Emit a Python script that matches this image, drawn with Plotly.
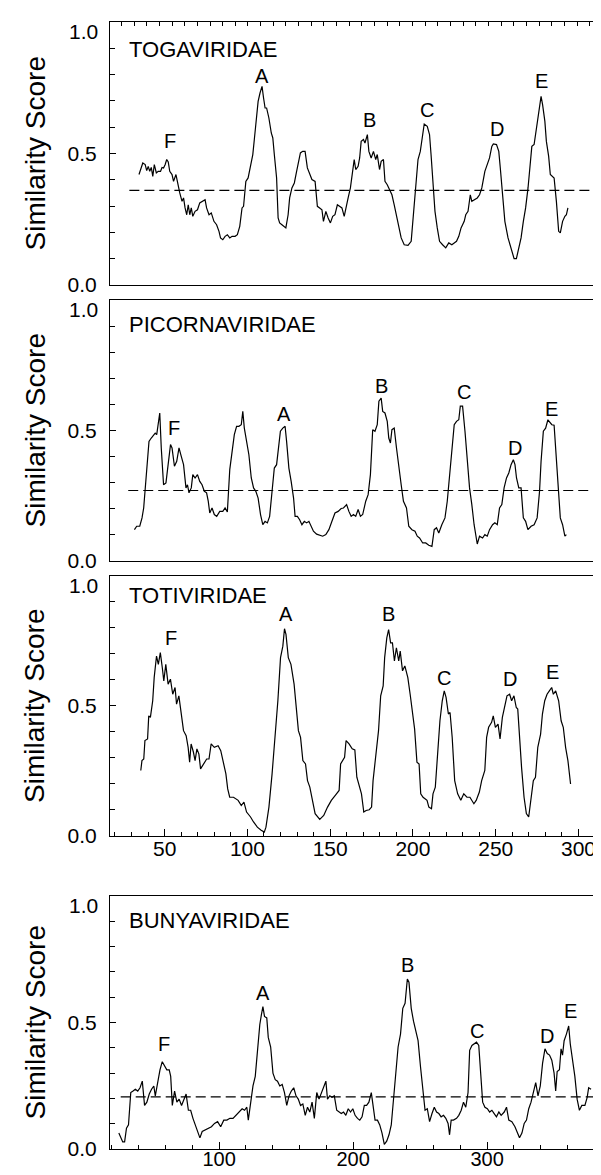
import plotly.graph_objects as go

# ---------------- DATA ----------------
toga_x = [23.9, 25.4, 26.9, 28.8, 30, 31.2, 32.4, 33.6, 34.8, 36, 37.6, 39.1, 40.9, 42.1, 43.3, 44.6, 45.8, 47, 48.2, 50,
          51.2, 53.1, 54.3, 56.1, 57.9, 59.1, 60.3, 61.6, 62.8, 64, 65.2, 66.4, 68.2, 70.1, 71.9, 73.7, 76.1, 77.3, 79.2, 81,
          83.1, 85.2, 87.1, 88.3, 90.1, 91.9, 93.7, 95.6, 97.4, 99.8, 101.6, 103.5, 105.3, 106.5, 108.3, 110.1, 112, 113.8, 115, 116.5,
          118, 119.5, 121.1, 122.3, 123.5, 124.7, 126.5, 128.4, 129.6, 130.8, 132.6, 133.8, 135, 136.8, 138.7, 139.9, 141.7, 142.9, 144.7, 146.6,
          148.4, 150.2, 151.4, 153.2, 155.1, 156.9, 158.7, 160.5, 163, 164.8, 166.6, 168.4, 169.6, 171.5, 173.3, 175.1, 176.9, 178.7, 180.6, 182.4,
          184.2, 186, 187.2, 189.1, 190.9, 192.7, 193.9, 195.1, 197, 198.2, 199.4, 201.2, 202.4, 204.3, 205.5, 207.3, 209.1, 210.9, 212.1, 213.9,
          215.2, 217, 218.2, 220, 221.9, 223.7, 225.5, 227.3, 229.1, 231, 233.4, 236.4, 238.9, 240.7, 242.5, 244.3, 246.1, 248, 249.2, 251.6,
          253.4, 254.6, 256.5, 257.7, 259.5, 261.3, 263.7, 266.2, 268.6, 271, 272.9, 274.7, 276.5, 278.3, 280.8, 282, 283.8, 285.6, 286.8, 288.7,
          291.1, 292.9, 294.7, 297.1, 299, 300.8, 302.6, 303.8, 306.3, 308.1, 309.3, 311.1, 312.9, 315.4, 317.8, 320.2, 322, 323.9, 325.7, 327.5,
          329.3, 331.2, 333, 334.2, 336, 337.8, 339.7, 341.5, 342.7, 344.5, 345.7, 347.5, 348.8, 350.6, 351.8, 353.6, 355.4, 356.7, 358.5, 360.3,
          361.5, 362.7]
toga_y = [0.42, 0.439, 0.464, 0.458, 0.435, 0.451, 0.432, 0.447, 0.413, 0.458, 0.426, 0.432, 0.432, 0.447, 0.445, 0.458, 0.477, 0.468, 0.432, 0.42,
          0.394, 0.42, 0.388, 0.35, 0.318, 0.331, 0.293, 0.267, 0.305, 0.267, 0.293, 0.261, 0.28, 0.286, 0.312, 0.318, 0.324, 0.293, 0.267, 0.274,
          0.242, 0.229, 0.204, 0.179, 0.172, 0.185, 0.191, 0.179, 0.185, 0.185, 0.191, 0.223, 0.293, 0.299, 0.394, 0.407, 0.458, 0.496, 0.553, 0.635,
          0.698, 0.73, 0.755, 0.711, 0.673, 0.673, 0.635, 0.578, 0.559, 0.496, 0.407, 0.255, 0.236, 0.229, 0.223, 0.217, 0.267, 0.331, 0.369, 0.388,
          0.432, 0.47, 0.502, 0.508, 0.508, 0.445, 0.42, 0.401, 0.394, 0.299, 0.293, 0.286, 0.242, 0.28, 0.255, 0.236, 0.261, 0.267, 0.305, 0.299,
          0.293, 0.261, 0.293, 0.331, 0.369, 0.445, 0.477, 0.439, 0.451, 0.483, 0.546, 0.553, 0.54, 0.572, 0.508, 0.483, 0.508, 0.477, 0.496, 0.439,
          0.47, 0.477, 0.394, 0.381, 0.362, 0.343, 0.305, 0.267, 0.217, 0.179, 0.153, 0.151, 0.166, 0.267, 0.369, 0.477, 0.508, 0.584, 0.612, 0.603,
          0.572, 0.496, 0.381, 0.28, 0.217, 0.166, 0.153, 0.141, 0.16, 0.153, 0.16, 0.166, 0.185, 0.217, 0.242, 0.267, 0.28, 0.343, 0.318, 0.324,
          0.331, 0.343, 0.369, 0.432, 0.458, 0.483, 0.527, 0.536, 0.534, 0.508, 0.445, 0.343, 0.242, 0.179, 0.141, 0.1, 0.1, 0.141, 0.179, 0.242,
          0.293, 0.369, 0.458, 0.527, 0.534, 0.597, 0.673, 0.717, 0.686, 0.622, 0.546, 0.489, 0.42, 0.413, 0.407, 0.318, 0.204, 0.198, 0.242, 0.261,
          0.267, 0.293]

pico_x = [20.3, 22.1, 24.5, 26.3, 27.6, 28.8, 30.6, 31.8, 33.6, 35.5, 36.7, 37.9, 39.1, 40.3, 41.5, 43.3, 45.2, 47, 48.8, 50,
          51.9, 53.7, 55.5, 57.3, 59.1, 61, 62.2, 63.4, 65.2, 66.4, 68.2, 70.1, 71.9, 73.7, 75.5, 77.3, 78.6, 79.8, 81.6, 83.4,
          85.3, 87.7, 90.1, 91.9, 93.7, 95.6, 97.4, 99.2, 101, 102.8, 104.7, 105.9, 107.1, 108.9, 110.7, 112.6, 114.4, 116.2, 118, 119.9,
          121.7, 123.5, 125.3, 127.1, 129, 130.8, 132.6, 134.4, 135.6, 137.5, 139.3, 140.5, 142.3, 144.1, 146, 147.2, 149, 150.8, 152.6, 154.5,
          156.3, 158.1, 159.9, 161.7, 164.2, 166.6, 169, 171.5, 173.9, 176.3, 178.7, 181.2, 183.6, 185.4, 187.9, 189.7, 191.5, 193.3, 195.1, 197,
          198.8, 200.6, 203, 204.9, 206.7, 208.5, 210.3, 212.1, 213.4, 215.2, 216.4, 218.2, 220, 221.2, 222.5, 223.7, 225.5, 227.3, 229.1, 231,
          232.8, 235.2, 237, 239.5, 241.9, 243.7, 245.5, 248, 250.4, 252.8, 255.3, 257.1, 258.9, 260.7, 263.1, 265.6, 267.4, 269.2, 271.1, 272.9,
          274.7, 276.5, 277.7, 279.5, 281.4, 283.2, 285, 286.8, 288.6, 291.1, 292.9, 295.3, 297.1, 299, 300.8, 303.2, 305, 306.9, 308.7, 310.5,
          312.3, 314.2, 316, 317.8, 319.6, 320.9, 322.1, 323.9, 325.7, 327.5, 329.3, 331.1, 333.6, 336, 338.4, 340.3, 341.5, 343.3, 345.1, 346.9,
          348.1, 350, 351.8, 353.6, 355.4, 356.7, 358.5, 360.3, 361.5]
pico_y = [0.12, 0.133, 0.133, 0.165, 0.203, 0.28, 0.382, 0.458, 0.471, 0.484, 0.49, 0.484, 0.522, 0.567, 0.433, 0.292, 0.299, 0.382, 0.446, 0.433,
          0.363, 0.382, 0.433, 0.401, 0.369, 0.28, 0.292, 0.261, 0.28, 0.331, 0.318, 0.331, 0.305, 0.292, 0.267, 0.261, 0.229, 0.184, 0.203, 0.178,
          0.171, 0.19, 0.19, 0.203, 0.188, 0.35, 0.42, 0.484, 0.516, 0.516, 0.522, 0.573, 0.509, 0.458, 0.407, 0.318, 0.28, 0.267, 0.241, 0.178,
          0.139, 0.152, 0.146, 0.171, 0.267, 0.356, 0.369, 0.458, 0.497, 0.509, 0.516, 0.458, 0.356, 0.305, 0.241, 0.171, 0.171, 0.158, 0.139, 0.152,
          0.146, 0.152, 0.133, 0.114, 0.103, 0.098, 0.095, 0.101, 0.12, 0.152, 0.184, 0.19, 0.201, 0.203, 0.216, 0.19, 0.171, 0.178, 0.171, 0.197,
          0.171, 0.178, 0.229, 0.254, 0.331, 0.503, 0.497, 0.522, 0.612, 0.624, 0.573, 0.567, 0.535, 0.471, 0.452, 0.503, 0.509, 0.433, 0.356, 0.292,
          0.229, 0.203, 0.133, 0.12, 0.114, 0.095, 0.088, 0.069, 0.069, 0.06, 0.056, 0.12, 0.127, 0.107, 0.139, 0.165, 0.229, 0.318, 0.407, 0.522,
          0.535, 0.541, 0.593, 0.593, 0.497, 0.395, 0.28, 0.216, 0.139, 0.065, 0.095, 0.088, 0.101, 0.095, 0.12, 0.139, 0.146, 0.139, 0.203, 0.216,
          0.28, 0.318, 0.337, 0.369, 0.388, 0.369, 0.318, 0.28, 0.28, 0.165, 0.152, 0.12, 0.133, 0.139, 0.165, 0.267, 0.382, 0.497, 0.509, 0.541,
          0.535, 0.522, 0.52, 0.382, 0.28, 0.165, 0.139, 0.095, 0.101]

toti_x = [35.6, 36.3, 37.4, 38.1, 39.7, 40.4, 41.4, 42.8, 43.7, 45.1, 46.2, 47.4, 48.6, 49.5, 50.7, 52.1, 53.5, 54.9, 56.3, 57.2,
          58.6, 60, 61.4, 63, 64.2, 65.1, 66, 67.4, 68.4, 69.5, 70.7, 71.7, 73.5, 75.4, 76.8, 78.1, 80, 82.3, 83.9, 85.6,
          87, 88.1, 89.3, 91.6, 94.4, 96.3, 97.9, 99.5, 101.9, 103.7, 106, 108.3, 110.2, 111.2, 113, 114.9, 116.5, 118.4, 120, 121.4,
          122.4, 123.3, 124.7, 126.3, 128.2, 129.4, 130.8, 132.1, 133.5, 135.1, 136.3, 137.7, 139, 140.9, 143.7, 146.1, 148.4, 150.7, 153.8, 155.4,
          156.3, 157.7, 158.7, 159.6, 161.4, 163.3, 164.9, 166.1, 167.5, 168.9, 170.3, 171.7, 173.6, 175, 175.9, 177.8, 179.2, 180.5, 182, 182.9,
          184.2, 185.3, 186.5, 187.6, 188.8, 190, 191.4, 192.3, 193.7, 195.1, 196.9, 198.3, 199.6, 201, 202.4, 203.7, 204.7, 206.1, 208.5, 209.6,
          211.2, 212.1, 213.5, 214.9, 216.3, 217.7, 218.9, 220, 221.4, 222.4, 223.7, 225.2, 227, 228.9, 230.7, 232.6, 234.4, 236.8, 238.2, 240.1,
          241.5, 243.4, 244.5, 245.7, 247.5, 248.5, 249.8, 251.4, 252.6, 254, 255.4, 256.8, 258.4, 259.6, 261, 262.4, 263.3, 264.3, 265.6, 267.1,
          268.5, 269.9, 271.3, 272.7, 274, 275.4, 277.1, 278.2, 279.6, 281, 282.4, 283.8, 284.8, 286.2, 288, 289.5, 290.8, 292.2, 293.6, 295.2]
toti_y = [0.252, 0.29, 0.296, 0.367, 0.373, 0.462, 0.456, 0.52, 0.61, 0.692, 0.66, 0.705, 0.647, 0.596, 0.66, 0.584, 0.603, 0.545, 0.571, 0.507,
          0.539, 0.469, 0.405, 0.386, 0.341, 0.284, 0.354, 0.322, 0.29, 0.335, 0.315, 0.258, 0.277, 0.296, 0.296, 0.354, 0.341, 0.347, 0.328, 0.277,
          0.239, 0.181, 0.149, 0.149, 0.137, 0.117, 0.13, 0.092, 0.073, 0.054, 0.034, 0.022, 0.015, 0.034, 0.111, 0.239, 0.367, 0.52, 0.686, 0.73,
          0.797, 0.775, 0.686, 0.66, 0.584, 0.494, 0.405, 0.379, 0.29, 0.277, 0.213, 0.188, 0.149, 0.086, 0.064, 0.079, 0.111, 0.137, 0.162, 0.175,
          0.277, 0.296, 0.303, 0.367, 0.354, 0.335, 0.331, 0.226, 0.194, 0.162, 0.092, 0.098, 0.101, 0.111, 0.213, 0.335, 0.405, 0.539, 0.577, 0.686,
          0.762, 0.794, 0.743, 0.743, 0.673, 0.724, 0.673, 0.711, 0.635, 0.654, 0.609, 0.545, 0.481, 0.411, 0.284, 0.277, 0.162, 0.149, 0.137, 0.111,
          0.105, 0.162, 0.188, 0.315, 0.443, 0.52, 0.558, 0.533, 0.469, 0.475, 0.379, 0.213, 0.162, 0.137, 0.162, 0.149, 0.149, 0.124, 0.137, 0.169,
          0.213, 0.252, 0.379, 0.418, 0.437, 0.462, 0.418, 0.43, 0.373, 0.456, 0.494, 0.539, 0.545, 0.52, 0.539, 0.494, 0.488, 0.386, 0.264, 0.149,
          0.086, 0.073, 0.149, 0.213, 0.226, 0.341, 0.392, 0.469, 0.52, 0.545, 0.558, 0.571, 0.545, 0.558, 0.52, 0.443, 0.418, 0.341, 0.29, 0.2]

bunya_x = [25.2, 26.6, 28.1, 29.5, 30.9, 32.4, 34.1, 35.8, 37.5, 39.3, 41, 42.7, 44.4, 46.1, 47.9, 49.6, 51.3, 52.4, 54.2, 55.9,
           57.6, 59.3, 61, 62.8, 63.9, 65.1, 66.8, 68.5, 70.2, 72, 73.7, 75.4, 77.1, 78.8, 80.5, 82.3, 84, 85.7, 87.4, 89.7,
           92, 94.3, 96.6, 98.9, 101.2, 103.5, 105.8, 108.1, 110.4, 112.7, 115, 117.2, 119, 120.7, 121.8, 123.5, 125.3, 127, 128.7, 130.4,
           131.6, 132.7, 133.9, 135.6, 136.7, 138.5, 140.2, 141.9, 143.6, 145.3, 147.1, 148.8, 150.5, 152.2, 153.9, 155.7, 157.4, 159.1, 160.8, 162.5,
           164.3, 166, 167.7, 169.4, 171.1, 172.9, 174.6, 176.3, 178, 179.7, 180.9, 182.6, 184.3, 186, 187.8, 189.5, 191.2, 192.9, 194.6, 196.4,
           198.1, 199.8, 201.5, 203.3, 205, 206.7, 208.4, 210.1, 211.8, 213.6, 214.7, 216.4, 218.2, 219.9, 221.6, 223.3, 225.1, 226.8, 228.5, 230.2,
           231.9, 233.6, 235.4, 237.1, 238.8, 240.5, 241.7, 243.4, 245.1, 246.8, 248.5, 250.3, 252, 253.7, 255.4, 257.1, 258.9, 260.6, 262.3, 264,
           265.7, 267.5, 269.2, 270.9, 272, 273.2, 274.9, 277.2, 278.9, 280.7, 282.4, 284.1, 285.8, 287, 288.7, 290.4, 292.1, 293.8, 295, 296.7,
           298.4, 300.2, 301.9, 303.6, 305.3, 307, 308.8, 310.5, 312.8, 314.5, 316.2, 318.5, 320.8, 322.5, 324.2, 326, 327.7, 329.4, 331.1, 332.8,
           334.6, 336.3, 338, 339.7, 341.4, 343.2, 344.9, 346.6, 348.3, 350, 351.2, 352.3, 354, 355.2, 356.3, 357.5, 359.2, 360.9, 362.1, 363.8,
           365.5, 367.2, 368.9, 370.7, 373, 374.7, 375.8, 377.6]
bunya_y = [0.063, 0.044, 0.028, 0.028, 0.082, 0.095, 0.223, 0.229, 0.236, 0.229, 0.242, 0.268, 0.172, 0.185, 0.217, 0.236, 0.249, 0.21, 0.262, 0.313,
           0.345, 0.326, 0.313, 0.313, 0.287, 0.172, 0.229, 0.185, 0.197, 0.172, 0.197, 0.217, 0.153, 0.153, 0.121, 0.095, 0.063, 0.044, 0.069, 0.076,
           0.082, 0.088, 0.101, 0.108, 0.088, 0.114, 0.114, 0.121, 0.121, 0.133, 0.146, 0.159, 0.153, 0.165, 0.114, 0.185, 0.249, 0.287, 0.403, 0.492,
           0.531, 0.563, 0.524, 0.518, 0.441, 0.403, 0.3, 0.274, 0.268, 0.249, 0.255, 0.223, 0.172, 0.21, 0.229, 0.242, 0.21, 0.197, 0.172, 0.178,
           0.133, 0.165, 0.146, 0.185, 0.121, 0.223, 0.197, 0.223, 0.249, 0.268, 0.197, 0.21, 0.204, 0.21, 0.153, 0.146, 0.14, 0.146, 0.133, 0.159,
           0.146, 0.159, 0.133, 0.121, 0.114, 0.127, 0.172, 0.172, 0.185, 0.223, 0.185, 0.114, 0.114, 0.095, 0.063, 0.018, 0.031, 0.056, 0.095, 0.197,
           0.3, 0.403, 0.454, 0.556, 0.576, 0.672, 0.659, 0.556, 0.505, 0.46, 0.428, 0.326, 0.223, 0.153, 0.159, 0.108, 0.14, 0.165, 0.146, 0.14,
           0.127, 0.133, 0.121, 0.101, 0.056, 0.114, 0.114, 0.121, 0.133, 0.153, 0.185, 0.165, 0.223, 0.39, 0.409, 0.415, 0.422, 0.409, 0.3, 0.185,
           0.165, 0.159, 0.146, 0.153, 0.14, 0.127, 0.146, 0.133, 0.146, 0.165, 0.114, 0.108, 0.088, 0.063, 0.044, 0.063, 0.101, 0.114, 0.159, 0.185,
           0.223, 0.262, 0.21, 0.249, 0.338, 0.396, 0.377, 0.371, 0.351, 0.3, 0.229, 0.306, 0.313, 0.396, 0.371, 0.428, 0.454, 0.486, 0.415, 0.351,
           0.287, 0.197, 0.153, 0.172, 0.172, 0.204, 0.242, 0.236]

# dashed thresholds: [x_start, x_end], level
toga_thr_x, toga_thr = [16.3, 383.6], 0.36
pico_thr_x, pico_thr = [15.4, 382.8], 0.27
bunya_thr_x, bunya_thr = [26.6, 379.3], 0.206

# peak labels
peak_names = ["F", "A", "B", "C", "D", "E"]
toga_lab_x = [48.2, 121.1, 206.1, 251.6, 306.3, 342.1]
toga_lab_y = [0.546, 0.793, 0.629, 0.667, 0.594, 0.777]
pico_lab_x = [51.2, 138.7, 215.2, 280.4, 320.8, 349.4]
pico_lab_y = [0.51, 0.563, 0.672, 0.648, 0.433, 0.584]
toti_lab_x = [53.7, 123.1, 185.2, 218.9, 258.4, 284.1]
toti_lab_y = [0.762, 0.854, 0.854, 0.609, 0.603, 0.631]
bunya_lab_x = [59, 132.7, 240.5, 292.7, 344.9, 362.1]
bunya_lab_y = [0.415, 0.618, 0.729, 0.467, 0.447, 0.546]

family_names = ["TOGAVIRIDAE", "PICORNAVIRIDAE", "TOTIVIRIDAE", "BUNYAVIRIDAE"]
family_title_y = [0.895, 0.905, 0.926, 0.905]
y_title = "Similarity Score"
y_tick_vals = [0, 0.5]
y_tick_text = ["0.0", "0.5"]
y_top_text = "1.0"

# ---------------- FIGURE ----------------
FONT = "Liberation Sans, Arial, sans-serif"
W, H = 601, 1175
ML, MR, MT, MB = 102, 4, 14, 27

domains = [[0.7681, 1.0], [0.5247, 0.7549], [0.2822, 0.5115], [0.0062, 0.2293]]
xranges = [[1, 392], [1, 392], [17, 316], [18.6, 388]]

panels = [
    (toga_x, toga_y, toga_thr_x, toga_thr, toga_lab_x, toga_lab_y),
    (pico_x, pico_y, pico_thr_x, pico_thr, pico_lab_x, pico_lab_y),
    (toti_x, toti_y, None, None, toti_lab_x, toti_lab_y),
    (bunya_x, bunya_y, bunya_thr_x, bunya_thr, bunya_lab_x, bunya_lab_y),
]

fig = go.Figure()
annotations = []
for i, (xs, ys, tx, tv, lx, ly) in enumerate(panels):
    n = "" if i == 0 else str(i + 1)
    xa, ya = "x" + n, "y" + n
    fig.add_trace(go.Scatter(x=xs, y=ys, mode="lines", xaxis=xa, yaxis=ya,
                             line=dict(color="black", width=1.2), showlegend=False, hoverinfo="skip"))
    if tx is not None:
        fig.add_trace(go.Scatter(x=tx, y=[tv, tv], mode="lines", xaxis=xa, yaxis=ya,
                                 line=dict(color="black", width=1.2, dash="10px,5px"),
                                 showlegend=False, hoverinfo="skip"))
    for name, px, py in zip(peak_names, lx, ly):
        annotations.append(dict(x=px, y=py, xref=xa, yref=ya, text=name, showarrow=False,
                                font=dict(family=FONT, size=20, color="black"),
                                xanchor="center", yanchor="middle"))
    annotations.append(dict(x=0.034, y=family_title_y[i], xref=xa + " domain", yref=ya,
                            text=family_names[i], showarrow=False, xanchor="left", yanchor="middle",
                            font=dict(family=FONT, size=22, color="black")))
    annotations.append(dict(x=-0.1515, y=0.5, xref=xa + " domain", yref=ya + " domain",
                            text=y_title, textangle=-90, showarrow=False,
                            xanchor="center", yanchor="middle",
                            font=dict(family=FONT, size=28, color="black")))
    # "1.0" label sits just below the top border, as in the reference
    annotations.append(dict(x=-0.02, y=1.0, xref=xa + " domain", yref=ya, text=y_top_text,
                            showarrow=False, xanchor="right", yanchor="top", yshift=4,
                            font=dict(family=FONT, size=21, color="black")))

layout = dict(width=W, height=H, margin=dict(l=ML, r=MR, t=MT, b=MB),
              paper_bgcolor="white", plot_bgcolor="white",
              font=dict(family=FONT, size=21, color="black"),
              annotations=annotations)

for i in range(4):
    n = "" if i == 0 else str(i + 1)
    xkey, ykey = "xaxis" + n, "yaxis" + n
    xa = dict(domain=[0, 1], range=xranges[i], anchor="y" + n, showgrid=False, zeroline=False,
              showline=True, linecolor="black", linewidth=1.2, mirror=True,
              tickfont=dict(family=FONT, size=21, color="black"))
    if i == 0:
        xa.update(side="top", ticks="inside", ticklen=4, tickwidth=1, tickcolor="black",
                  dtick=10, tick0=0, showticklabels=False)
    elif i == 1:
        xa.update(ticks="", showticklabels=False)
    elif i == 2:
        xa.update(ticks="inside", ticklen=7, tickwidth=1, tickcolor="black", dtick=50, tick0=0,
                  minor=dict(dtick=10, tick0=0, ticks="inside", ticklen=4, tickcolor="black", tickwidth=1),
                  ticklabelstandoff=-6)
    else:
        xa.update(ticks="inside", ticklen=7, tickwidth=1, tickcolor="black", dtick=100, tick0=0,
                  minor=dict(dtick=20, tick0=0, ticks="inside", ticklen=4, tickcolor="black", tickwidth=1),
                  ticklabelstandoff=-8, tickfont=dict(family=FONT, size=20, color="black"))
    ya = dict(domain=domains[i], range=[0, 1], anchor="x" + n, showgrid=False, zeroline=False,
              showline=True, linecolor="black", linewidth=1.2, mirror="allticks",
              ticks="inside", ticklen=6, tickwidth=1, tickcolor="black",
              tickvals=y_tick_vals, ticktext=y_tick_text,
              minor=dict(dtick=0.1, tick0=0, ticks="inside", ticklen=5, tickcolor="black", tickwidth=1),
              ticklabelstandoff=8,
              tickfont=dict(family=FONT, size=21, color="black"))
    layout[xkey] = xa
    layout[ykey] = ya

fig.update_layout(**layout)
fig.write_html("out.html")
